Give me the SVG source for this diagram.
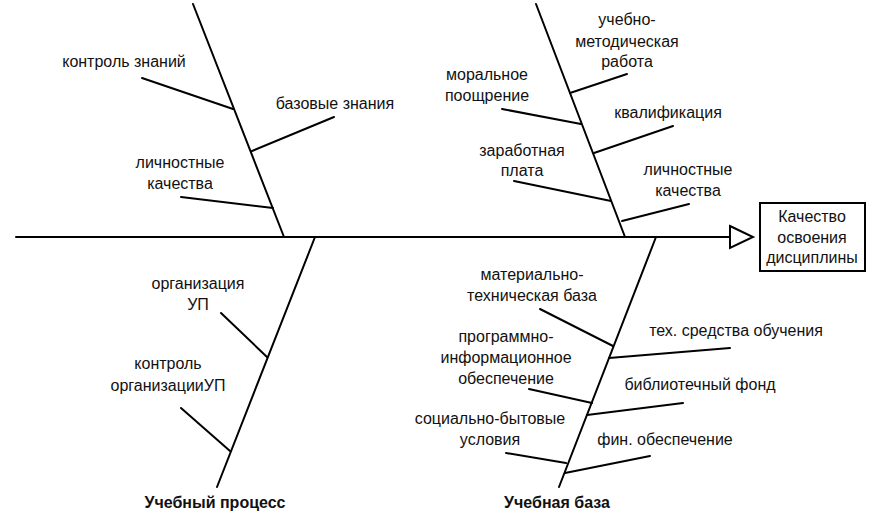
<svg xmlns="http://www.w3.org/2000/svg" width="878" height="528" viewBox="0 0 878 528">
<style>
.l{stroke:#000;stroke-width:2;fill:none;stroke-linecap:round}
.t{font-family:"Liberation Sans",Arial,sans-serif;font-size:16px;fill:#111;text-anchor:middle}
.b{font-weight:bold}
</style>
<rect width="878" height="528" fill="#fff"/>
<g id="connectors">
<line class="l" x1="16" y1="237" x2="730" y2="237"/>
<polygon points="730,226 753,237 730,248" fill="#fff" stroke="#000" stroke-width="2" stroke-linejoin="miter"/>
<line class="l" x1="193" y1="4" x2="284" y2="237"/>
<line class="l" x1="142" y1="78" x2="233" y2="109"/>
<line class="l" x1="252" y1="151" x2="334" y2="117"/>
<line class="l" x1="181" y1="197" x2="273" y2="208"/>
<line class="l" x1="315" y1="237" x2="217" y2="487"/>
<line class="l" x1="221" y1="313" x2="267" y2="357"/>
<line class="l" x1="181" y1="408" x2="230" y2="451"/>
<line class="l" x1="536" y1="4" x2="625" y2="237"/>
<line class="l" x1="570" y1="93" x2="627" y2="74"/>
<line class="l" x1="502" y1="109" x2="581" y2="124"/>
<line class="l" x1="594" y1="153" x2="673" y2="126"/>
<line class="l" x1="514" y1="181" x2="611" y2="201"/>
<line class="l" x1="622" y1="221" x2="689" y2="204"/>
<line class="l" x1="656" y1="237" x2="559" y2="487"/>
<line class="l" x1="540" y1="309" x2="613" y2="346"/>
<line class="l" x1="609" y1="358" x2="730" y2="348"/>
<line class="l" x1="529" y1="389" x2="592" y2="403"/>
<line class="l" x1="587" y1="415" x2="683" y2="403"/>
<line class="l" x1="506" y1="453" x2="566" y2="463"/>
<line class="l" x1="565" y1="473" x2="650" y2="456"/>
</g>
<g id="result">
<rect x="760" y="203" width="105" height="68" fill="#fff" stroke="#000" stroke-width="2"/>
<text class="t" x="812" y="222">Качество</text>
<text class="t" x="812" y="243">освоения</text>
<text class="t" x="812" y="263">дисциплины</text>
</g>
<g id="n-kontrol-znaniy"><text class="t" x="124" y="67">контроль знаний</text></g>
<g id="n-bazovye-znaniya"><text class="t" x="335" y="109">базовые знания</text></g>
<g id="n-lichnostnye-1"><text class="t" x="180" y="168">личностные</text><text class="t" x="180" y="189">качества</text></g>
<g id="n-organizaciya-up"><text class="t" x="198" y="289">организация</text><text class="t" x="198" y="310">УП</text></g>
<g id="n-kontrol-org-up"><text class="t" x="168" y="369">контроль</text><text class="t" x="168" y="391">организацииУП</text></g>
<g id="n-uchebny-process"><text class="t b" x="215" y="508">Учебный процесс</text></g>
<g id="n-uchebno-metod"><text class="t" x="627" y="25">учебно-</text><text class="t" x="627" y="47">методическая</text><text class="t" x="627" y="67">работа</text></g>
<g id="n-moralnoe"><text class="t" x="487" y="80">моральное</text><text class="t" x="487" y="101">поощрение</text></g>
<g id="n-kvalifikaciya"><text class="t" x="668" y="118">квалификация</text></g>
<g id="n-zarabotnaya"><text class="t" x="522" y="156">заработная</text><text class="t" x="522" y="176">плата</text></g>
<g id="n-lichnostnye-2"><text class="t" x="688" y="175">личностные</text><text class="t" x="688" y="196">качества</text></g>
<g id="n-mat-teh"><text class="t" x="532" y="280">материально-</text><text class="t" x="532" y="301">техническая база</text></g>
<g id="n-teh-sredstva"><text class="t" x="736" y="336">тех. средства обучения</text></g>
<g id="n-prog-inf"><text class="t" x="506" y="342">программно-</text><text class="t" x="506" y="363">информационное</text><text class="t" x="506" y="384">обеспечение</text></g>
<g id="n-bibl-fond"><text class="t" x="700" y="390">библиотечный фонд</text></g>
<g id="n-soc-byt"><text class="t" x="490" y="424">социально-бытовые</text><text class="t" x="490" y="445">условия</text></g>
<g id="n-fin"><text class="t" x="665" y="445">фин. обеспечение</text></g>
<g id="n-uchebnaya-baza"><text class="t b" x="557" y="508">Учебная база</text></g>
</svg>
